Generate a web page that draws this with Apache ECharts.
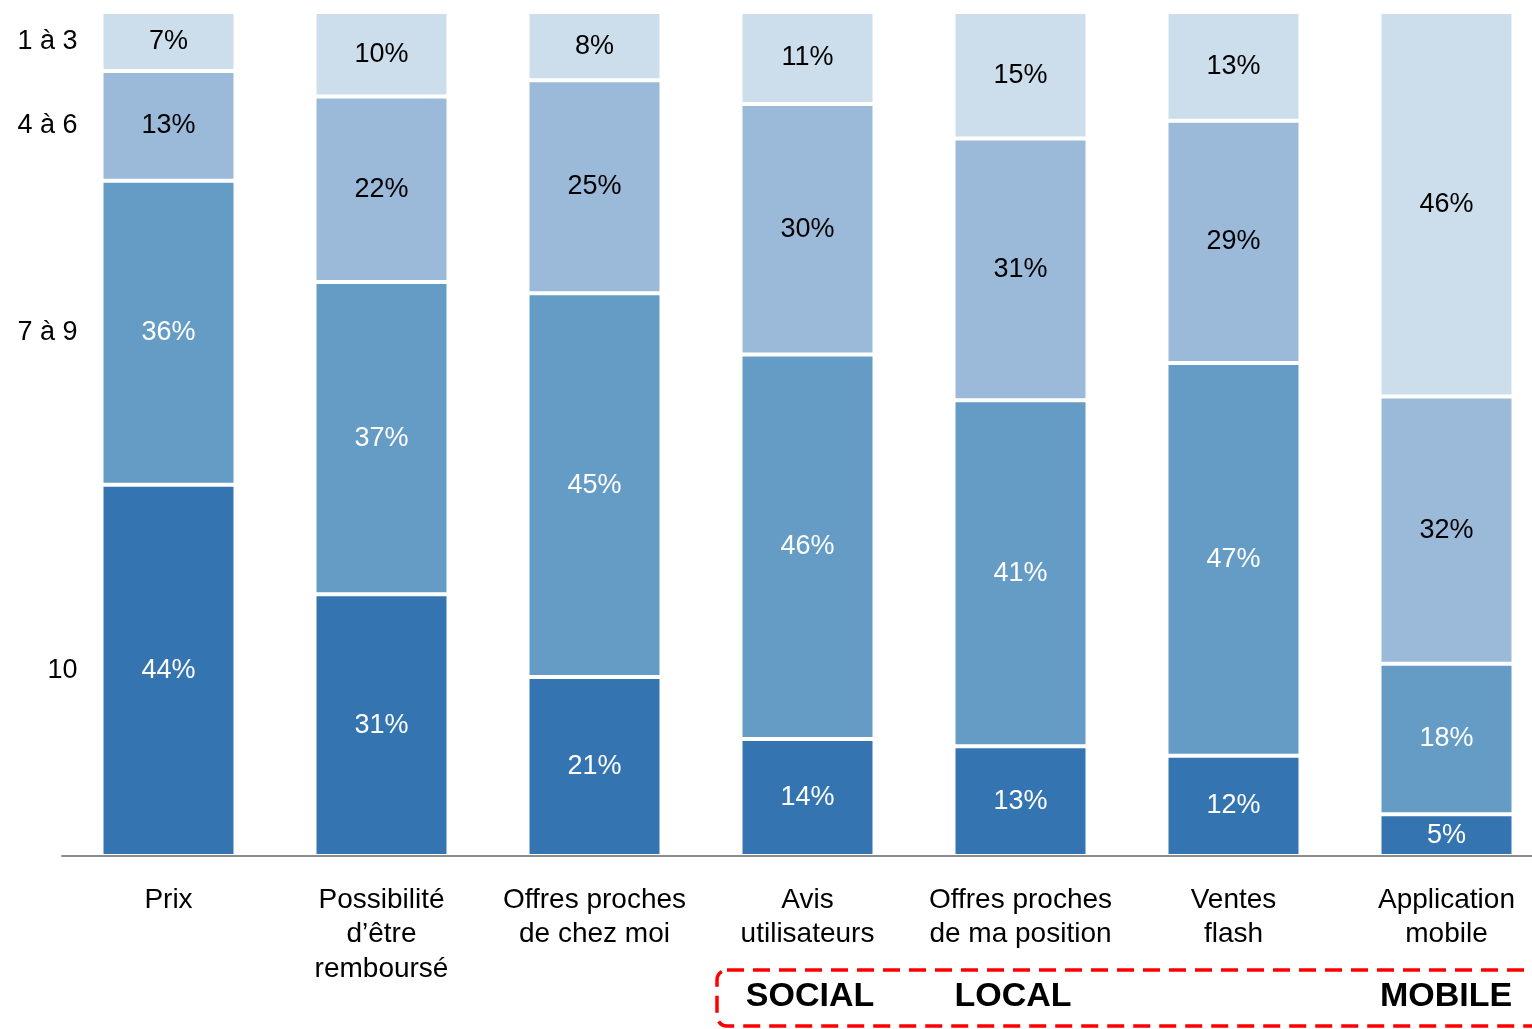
<!DOCTYPE html>
<html>
<head>
<meta charset="utf-8">
<script src="https://cdn.jsdelivr.net/npm/echarts@6/dist/echarts.min.js"></script>
<style>
html,body{margin:0;padding:0;background:#fff;}
#chart{width:1532px;height:1029px;}
</style>
</head>
<body>
<div id="chart"></div>
<script>
const categories = ['Prix', 'Possibilité\nd’être\nremboursé', 'Offres proches\nde chez moi', 'Avis\nutilisateurs', 'Offres proches\nde ma position', 'Ventes\nflash', 'Application\nmobile'];
const seriesNames = ['10', '7 à 9', '4 à 6', '1 à 3'];
const s10 = [44, 31, 21, 14, 13, 12, 5];
const s79 = [36, 37, 45, 46, 41, 47, 18];
const s46 = [13, 22, 25, 30, 31, 29, 32];
const s13 = [7, 10, 8, 11, 15, 13, 46];
const groupTags = ['SOCIAL', 'LOCAL', 'MOBILE'];

const allSeries = [s10, s79, s46, s13];
const colors = ['#3474b1', '#659cc6', '#9bbad9', '#ccdeec'];
const labelColors = ['#ffffff', '#ffffff', '#000000', '#000000'];
const totals = categories.map((_, i) => allSeries.reduce((a, s) => a + s[i], 0));
const FONT = '"Liberation Sans", Arial, sans-serif';

const series = [];
allSeries.forEach((vals, k) => {
  series.push({
    name: seriesNames[k],
    type: 'bar',
    stack: 'main',
    barWidth: 134,
    barGap: '-100%',
    data: vals.map((v, i) => ({ value: v / totals[i] * 100, raw: v })),
    itemStyle: { color: colors[k], borderColor: '#ffffff', borderWidth: 2 },
    label: {
      show: true,
      position: 'inside',
      color: labelColors[k],
      fontFamily: FONT,
      fontSize: 27,
      formatter: p => p.data.raw + '%'
    },
    emphasis: { disabled: true },
    z: 2
  });
});
// ghost series carrying the left-side scale labels next to the first bar
allSeries.forEach((vals, k) => {
  series.push({
    name: seriesNames[k] + '_lbl',
    type: 'bar',
    stack: 'ghost',
    barWidth: 134,
    barGap: '-100%',
    silent: true,
    data: vals.map((v, i) => ({
      value: v / totals[i] * 100,
      label: { show: i === 0 }
    })),
    itemStyle: { color: 'rgba(0,0,0,0)' },
    label: {
      show: false,
      position: 'left',
      distance: 24,
      color: '#000',
      fontFamily: FONT,
      fontSize: 27,
      formatter: () => seriesNames[k]
    },
    emphasis: { disabled: true },
    z: 1
  });
});

const chart = echarts.init(document.getElementById('chart'), null, { renderer: 'canvas' });
chart.setOption({
  animation: false,
  backgroundColor: '#fff',
  grid: { left: 62, top: 12, width: 1491, height: 844, outerBoundsMode: 'none', containLabel: false },
  xAxis: {
    type: 'category',
    data: categories,
    z: 10,
    axisLine: { show: true, lineStyle: { color: '#8c8c8c', width: 2 } },
    axisTick: { show: false },
    axisLabel: {
      interval: 0,
      margin: 27,
      color: '#000',
      fontFamily: FONT,
      fontSize: 28,
      lineHeight: 34.5,
      align: 'center'
    }
  },
  yAxis: {
    type: 'value',
    min: 0,
    max: 100,
    show: false,
    splitLine: { show: false }
  },
  series: series,
  graphic: [
    {
      type: 'rect',
      shape: { x: 717, y: 970, width: 900, height: 56, r: 10 },
      style: { fill: 'none', stroke: '#ff0000', lineWidth: 3.5, lineDash: [17, 9] },
      z: 20
    },
    {
      type: 'text',
      x: 810, y: 997,
      style: { text: groupTags[0], font: 'bold 34px ' + FONT, fill: '#000', align: 'center', verticalAlign: 'middle' },
      z: 20
    },
    {
      type: 'text',
      x: 1013, y: 997,
      style: { text: groupTags[1], font: 'bold 34px ' + FONT, fill: '#000', align: 'center', verticalAlign: 'middle' },
      z: 20
    },
    {
      type: 'text',
      x: 1446, y: 997,
      style: { text: groupTags[2], font: 'bold 34px ' + FONT, fill: '#000', align: 'center', verticalAlign: 'middle' },
      z: 20
    }
  ]
});
</script>
</body>
</html>
